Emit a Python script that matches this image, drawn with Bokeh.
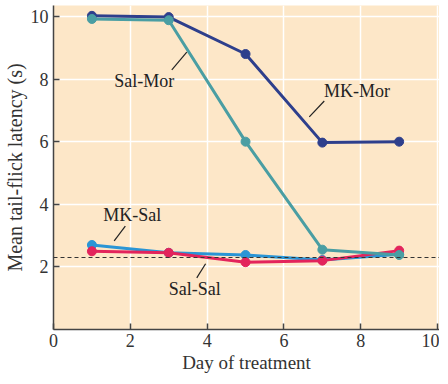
from bokeh.plotting import figure
from bokeh.models import FixedTicker, Span
from bokeh.core.properties import value
from bokeh.embed import file_html
from bokeh.resources import INLINE

days = [1, 3, 5, 7, 9]
mk_mor = [10.02, 9.98, 8.8, 5.97, 6.0]
sal_mor = [9.92, 9.88, 6.0, 2.55, 2.38]
mk_sal = [2.7, 2.45, 2.38, 2.22, 2.4]
sal_sal = [2.5, 2.45, 2.15, 2.2, 2.52]
baseline = 2.3

x_ticks = [0, 2, 4, 6, 8, 10]
y_ticks = [2, 4, 6, 8, 10]

labels = ["Sal-Mor", "MK-Mor", "MK-Sal", "Sal-Sal"]
label_x = [2.36, 7.9, 2.05, 3.68]
label_y = [7.94, 7.62, 3.65, 1.3]
lead_x0 = [3.08, 6.66, 1.58, 3.73]
lead_y0 = [8.29, 6.79, 2.83, 1.65]
lead_x1 = [3.47, 7.05, 1.87, 3.96]
lead_y1 = [8.86, 7.30, 3.30, 2.10]

FONT = "Liberation Serif"

p = figure(frame_width=386, frame_height=324, x_range=(0, 10.05), y_range=(0, 10.35),
           output_backend="svg", toolbar_location=None,
           min_border_left=41, min_border_right=0, min_border_top=5, min_border_bottom=44)
p.background_fill_color = "#fde7c8"
p.border_fill_color = "white"
p.outline_line_color = None

p.xaxis.ticker = FixedTicker(ticks=x_ticks)
p.yaxis.ticker = FixedTicker(ticks=y_ticks)
p.grid.grid_line_color = "white"
p.grid.grid_line_width = 1.5
for ax in (p.xaxis[0], p.yaxis[0]):
    ax.major_tick_in = 6
    ax.major_tick_out = 0
    ax.minor_tick_line_color = None
    ax.axis_line_color = "#444444"
    ax.axis_line_width = 1.5
    ax.major_tick_line_color = "#444444"
    ax.major_tick_line_width = 1.5
    ax.major_label_text_font = FONT
    ax.major_label_text_font_size = "18px"
    ax.major_label_text_color = "#333333"
    ax.axis_label_text_font = FONT
    ax.axis_label_text_font_style = "normal"
    ax.axis_label_text_color = "#333333"
p.xaxis.axis_label = "Day of treatment"
p.yaxis.axis_label = "Mean tail-flick latency (s)"
p.xaxis.axis_label_text_font_size = "19px"
p.yaxis.axis_label_text_font_size = "20px"
p.xaxis.major_label_standoff = 4
p.yaxis.major_label_standoff = 5
p.xaxis.axis_label_standoff = 2
p.yaxis.axis_label_standoff = 2

p.add_layout(Span(location=baseline, dimension="width", line_color="#333333",
                  line_dash="4 3", line_width=1.2))

series = [
    (mk_sal, "#2a95d5"),
    (sal_sal, "#e3245c"),
    (mk_mor, "#2e3f8c"),
    (sal_mor, "#4a9ea3"),
]
for ys, c in series:
    p.line(days, ys, line_color=c, line_width=3)
    p.scatter(days, ys, size=9, fill_color=c, line_color=c)

p.segment(x0=lead_x0, y0=lead_y0, x1=lead_x1, y1=lead_y1, line_color="#222222", line_width=1.2)
p.text(x=label_x, y=label_y, text=labels, text_font=value(FONT), text_font_size="18px",
       text_align="center", text_baseline="middle", text_color="#222222")

open("out.html", "w").write(file_html(p, INLINE))
